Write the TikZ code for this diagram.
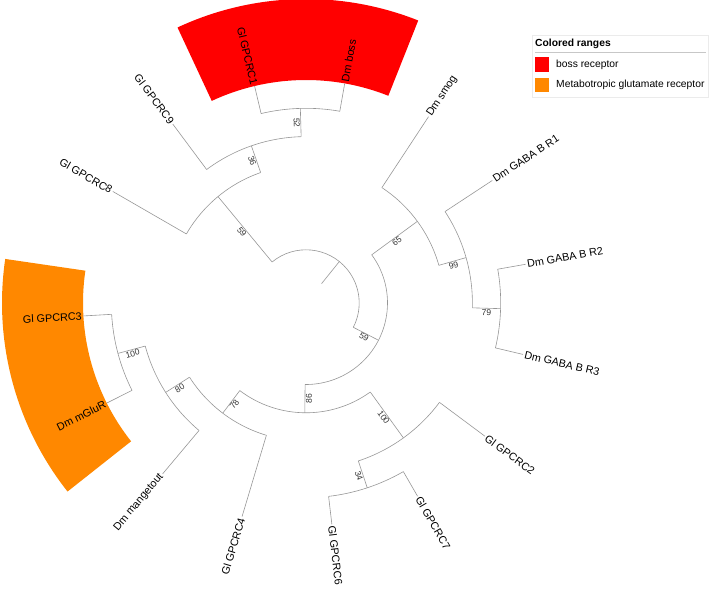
\documentclass[tikz,border=0pt]{standalone}
\usepackage{fontspec}
\setmainfont{Liberation Sans}
\usepackage{tikz}
\usetikzlibrary{calc}
\definecolor{rangerouge}{RGB}{255,0,0}
\definecolor{rangeorange}{RGB}{255,136,0}
\definecolor{trait}{RGB}{150,150,150}

\tikzset{
  branche/.style={draw=trait, line width=0.6pt},
  feuille/.style={font=\fontsize{10.8}{13}\selectfont, inner sep=1.5pt},
  bootstrap/.style={font=\fontsize{8.5}{10}\selectfont, text=black!80, inner sep=0.8pt, anchor=north},
  legende/.style={font=\fontsize{10.3}{12}\selectfont, anchor=west, inner sep=0pt},
}

\begin{document}
\begin{tikzpicture}[x=1pt, y=1pt]
        \useasboundingbox (-306,-288) rectangle (403,303);

        % --- Plages colorees ---
        \fill[rangerouge] (68.333:223) arc[start angle=68.333, end angle=115, radius=223]
            -- (115:304) arc[start angle=115, end angle=68.333, radius=304] -- cycle;
        \fill[rangeorange] (171.667:223) arc[start angle=171.667, end angle=218.333, radius=223]
            -- (218.333:304) arc[start angle=218.333, end angle=171.667, radius=304] -- cycle;

        % --- Feuilles : nom/angle/hauteur du parent ---
        \foreach \nom/\a/\hp in {GPCRC8/150/3, GPCRC9/126.667/2, GPCRC1/103.333/1,
            boss/80/1, smog/56.667/3, R1/33.333/2, R2/10/1, R3/-13.333/1,
            GPCRC2/-36.667/2, GPCRC7/-60/1, GPCRC6/-83.333/1, GPCRC4/-106.667/3,
            mangetout/-130/2, mGluR/-153.333/1, GPCRC3/-176.667/1} {
            \coordinate (\nom) at (\a:223);
            \coordinate (e-\nom) at (\a:{223-28.3*\hp});
        }

        % --- Noeuds internes : nom/angle/hauteur/hauteur du parent ---
        \foreach \nom/\a/\h/\hp in {n52/91.667/1/2, n36/109.167/2/3, nA/129.583/3/6,
            n79/-1.667/1/2, n99/15.833/2/3, n65/36.25/3/5,
            n34/-71.667/1/2, n100a/-54.167/2/4, n100b/-165/1/2,
            n80/-147.5/2/3, n78/-127.083/3/4, n86/-90.625/4/5,
            nB/-27.188/5/6, N1/51.198/6/7} {
            \coordinate (\nom) at (\a:{223-28.3*\h});
            \coordinate (e-\nom) at (\a:{223-28.3*\hp});
        }

        % Branches radiales
        \foreach \nom in {GPCRC8, GPCRC9, GPCRC1, boss, smog, R1, R2, R3, GPCRC2,
            GPCRC7, GPCRC6, GPCRC4, mangetout, mGluR, GPCRC3, n52, n36, nA, n79,
            n99, n65, n34, n100a, n100b, n80, n78, n86, nB, N1} {
            \draw[branche] (e-\nom) -- (\nom);
        }

        % Arcs : premier enfant/hauteur/angle debut/angle fin
        \foreach \de/\h/\a/\b in {GPCRC1/1/103.333/80, GPCRC9/2/126.667/91.667,
            GPCRC8/3/150/109.167, R2/1/10/-13.333, R1/2/33.333/-1.667,
            smog/3/56.667/15.833, GPCRC7/1/-60/-83.333, GPCRC2/2/-36.667/-71.667,
            mGluR/1/-153.333/-176.667, mangetout/2/-130/-165,
            GPCRC4/3/-106.667/-147.5, n100a/4/-54.167/-127.083,
            n65/5/36.25/-90.625, nA/6/129.583/-27.188} {
            \draw[branche] (e-\de) arc[start angle=\a, end angle=\b, radius={223-28.3*\h}];
        }

        % --- Valeurs de bootstrap ---
        \foreach \nom/\a/\val in {n52/91.667/52, n36/109.167/36, nA/129.583/59,
            n79/-1.667/79, n99/15.833/99, n65/36.25/65, n34/-71.667/34,
            n100a/-54.167/100, n100b/-165/100, n80/-147.5/80, n78/-127.083/78,
            n86/-90.625/86, nB/-27.188/59} {
            \pgfmathsetmacro\rot{cos(\a)<0 ? \a+180 : \a}
            \node[bootstrap, rotate=\rot] (b-\nom) at ($(e-\nom)!0.5!(\nom)$) {\val};
        }

        % --- Etiquettes des feuilles ---
        \foreach \nom/\txt/\anc/\rot in {GPCRC8/Gl GPCRC8/east/-30,
            GPCRC9/Gl GPCRC9/east/-53.333, GPCRC1/Gl GPCRC1/east/-76.667,
            boss/Dm boss/west/80, smog/Dm smog/west/56.667,
            R1/Dm GABA B R1/west/33.333, R2/Dm GABA B R2/west/10,
            R3/Dm GABA B R3/west/-13.333, GPCRC2/Gl GPCRC2/west/-36.667,
            GPCRC7/Gl GPCRC7/west/-60, GPCRC6/Gl GPCRC6/west/-83.333,
            GPCRC4/Gl GPCRC4/east/73.333, mangetout/Dm mangetout/east/50,
            mGluR/Dm mGluR/east/26.667, GPCRC3/Gl GPCRC3/east/3.333} {
            \node[feuille, anchor=\anc, rotate=\rot] (l-\nom) at (\nom) {\txt};
        }

        % --- Legende ---
        \draw[black!8, fill=white] (225.7,205.7) rectangle (402.3,268);
        \node[legende, font=\fontsize{10.3}{12}\selectfont\bfseries] (titre) at (229,258.7) {Colored ranges};
        \draw[black!22, line width=1.5pt] (229,250.3) -- (400,250.3);
        \fill[rangerouge] (229,231.3) rectangle (243,245.7);
        \fill[rangeorange] (229,210.7) rectangle (243,224.7);
        \node[legende] (leg-boss) at (250,238.5) {boss receptor};
        \node[legende] (leg-mglur) at (250,217.7) {Metabotropic glutamate receptor};
\end{tikzpicture}
\end{document}
